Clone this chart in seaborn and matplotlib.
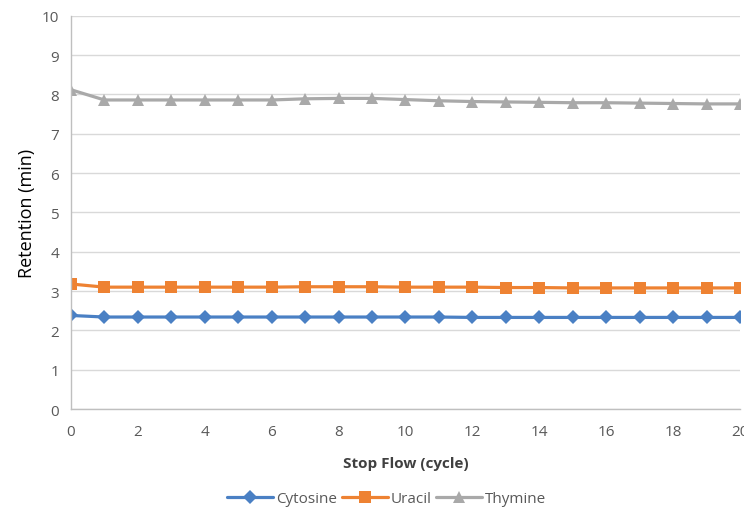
import numpy as np
import pandas as pd
import matplotlib
matplotlib.use("Agg")
import matplotlib.pyplot as plt
import seaborn as sns
from matplotlib.lines import Line2D

cycles = list(range(0, 21))
cytosine = [2.38, 2.34, 2.34, 2.34, 2.34, 2.34, 2.34, 2.34, 2.34, 2.34, 2.34,
            2.34, 2.33, 2.33, 2.33, 2.33, 2.33, 2.33, 2.33, 2.33, 2.33]
uracil = [3.18, 3.10, 3.10, 3.10, 3.10, 3.10, 3.10, 3.11, 3.11, 3.11, 3.10,
          3.10, 3.10, 3.09, 3.09, 3.08, 3.08, 3.08, 3.08, 3.08, 3.08]
thymine = [8.12, 7.86, 7.86, 7.86, 7.86, 7.86, 7.86, 7.89, 7.90, 7.90, 7.87,
           7.84, 7.82, 7.81, 7.80, 7.79, 7.79, 7.78, 7.77, 7.76, 7.76]
series_names = ["Cytosine", "Uracil", "Thymine"]
x_ticks = list(range(0, 21, 2))
y_ticks = list(range(0, 11))

df = pd.DataFrame({
    "cycle": cycles * 3,
    "value": cytosine + uracil + thymine,
    "series": [s for s in series_names for _ in cycles],
})

sns.set_style("white")
plt.rcParams["font.family"] = ["Open Sans", "DejaVu Sans"]

fig = plt.figure(figsize=(7.44, 5.10), dpi=100)
ax = fig.add_axes([0.0954, 0.196, 0.8992, 0.771])

palette = {"Cytosine": "#4A80C4", "Uracil": "#EE8232", "Thymine": "#A9A9A9"}
markers = {"Cytosine": "D", "Uracil": "s", "Thymine": "^"}
sizes_m = {"Cytosine": 7, "Uracil": 8, "Thymine": 9}

sns.lineplot(data=df, x="cycle", y="value", hue="series", style="series",
             palette=palette, markers=markers, dashes=False, linewidth=2.3,
             markersize=8, markeredgewidth=0, ax=ax, legend=False)
for line, name in zip(ax.get_lines(), series_names):
    line.set_markersize(sizes_m[name])

ax.set_xlim(0, 20)
ax.set_ylim(0, 10)
ax.set_xticks(x_ticks)
ax.set_yticks(y_ticks)
ax.grid(axis="y", color="#D9D9D9", linewidth=1)
ax.set_axisbelow(True)
for side in ["top", "right"]:
    ax.spines[side].set_visible(False)
for side in ["left", "bottom"]:
    ax.spines[side].set_color("#BFBFBF")
    ax.spines[side].set_linewidth(1)
ax.tick_params(axis="both", which="both", direction="out", length=5,
               color="#BFBFBF", labelcolor="#595959", labelsize=11)
ax.tick_params(axis="x", pad=6)
ax.set_xlabel("Stop Flow (cycle)", fontsize=11, fontweight="bold", color="#404040", labelpad=12)
ax.set_ylabel("Retention (min)", fontsize=13, color="#000000", labelpad=4)

handles = [Line2D([], [], color=palette[n], marker=markers[n], markersize=sizes_m[n],
                  linewidth=2.3, markeredgewidth=0) for n in series_names]
fig.legend(handles, series_names, loc="center", bbox_to_anchor=(0.52, 0.02),
           ncol=3, frameon=False, fontsize=11, handlelength=3, columnspacing=0.3,
           handletextpad=0.2, labelcolor="#595959")

fig.savefig("out.png", dpi=100)
